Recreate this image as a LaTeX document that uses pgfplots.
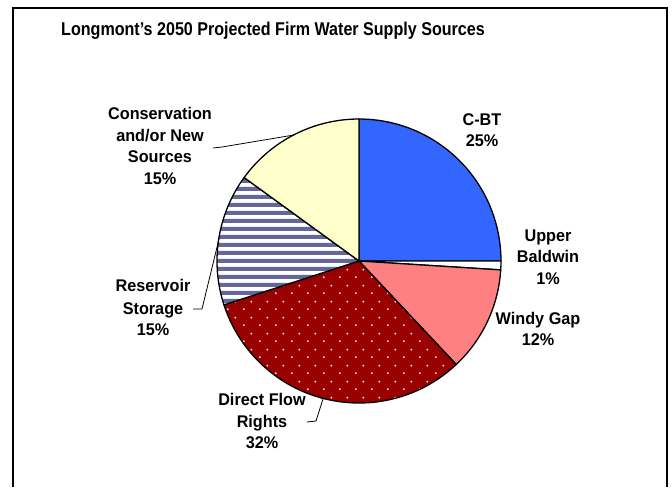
\documentclass[border=0pt]{standalone}
\usepackage{pgfplots}
\pgfplotsset{compat=1.18}
\usepackage{pgfplotstable}
\usepackage{fontspec}
\setmainfont{Liberation Sans}
\newfontfamily\ttlfamily[FakeStretch=0.87]{Liberation Sans}
\newfontfamily\labfamily[FakeStretch=0.96]{Liberation Sans}
\usetikzlibrary{patterns}

\definecolor{cbt}{HTML}{3366FF}
\definecolor{windy}{HTML}{FF8080}
\definecolor{direct}{HTML}{990000}
\definecolor{stripe}{HTML}{666699}
\definecolor{cons}{HTML}{FFFFCC}
\definecolor{dotc}{HTML}{F4D8D8}

\pgfdeclarepatternformonly{hstripes}{\pgfpoint{0pt}{0pt}}{\pgfpoint{10pt}{7.7pt}}{\pgfpoint{10pt}{7.7pt}}{%
  \pgfpathrectangle{\pgfpoint{-1pt}{0pt}}{\pgfpoint{12pt}{4.2pt}}\pgfusepath{fill}}
\pgfdeclarepatternformonly{sdots}{\pgfpoint{0pt}{0pt}}{\pgfpoint{16pt}{16pt}}{\pgfpoint{16pt}{16pt}}{%
  \pgfpathcircle{\pgfpoint{4pt}{4pt}}{1.1pt}%
  \pgfpathcircle{\pgfpoint{12pt}{12pt}}{1.1pt}\pgfusepath{fill}}

\newcommand\lab{\labfamily\fontsize{16.9}{18}\selectfont\bfseries}
\newcommand\ttl{\ttlfamily\fontsize{18.5}{20}\selectfont\bfseries}

\begin{document}
\begin{tikzpicture}
\pgfplotstableread{
label pct
C-BT 25
UpperBaldwin 1
WindyGap 12
DirectFlowRights 32
ReservoirStorage 15
Conservation 15
}\piedata
\pgfplotstablegetelem{0}{pct}\of\piedata\pgfmathsetmacro\pA{\pgfplotsretval}
\pgfplotstablegetelem{1}{pct}\of\piedata\pgfmathsetmacro\pB{\pgfplotsretval}
\pgfplotstablegetelem{2}{pct}\of\piedata\pgfmathsetmacro\pC{\pgfplotsretval}
\pgfplotstablegetelem{3}{pct}\of\piedata\pgfmathsetmacro\pD{\pgfplotsretval}
\pgfplotstablegetelem{4}{pct}\of\piedata\pgfmathsetmacro\pE{\pgfplotsretval}
\pgfplotstablegetelem{5}{pct}\of\piedata\pgfmathsetmacro\pF{\pgfplotsretval}
\pgfmathsetmacro\tA{90}
\pgfmathsetmacro\tB{\tA-3.6*\pA}
\pgfmathsetmacro\tC{\tB-3.6*\pB}
\pgfmathsetmacro\tD{\tC-3.6*\pC}
\pgfmathsetmacro\tE{\tD-3.6*\pD}
\pgfmathsetmacro\tF{\tE-3.6*\pE}
\pgfmathsetmacro\tG{\tF-3.6*\pF}
\def\cx{359}\def\cy{226}\def\R{142}
\newcommand\slice[3]{%
  \path[#3,draw=black,line width=1.3pt,line join=round] (axis cs:\cx,\cy) -- (axis cs:{\cx+\R*cos(#1)},{\cy+\R*sin(#1)}) arc[start angle=#1,end angle=#2,radius=\R pt] -- cycle;}
\begin{axis}[x=1pt,y=1pt,xmin=0,xmax=672,ymin=0,ymax=487,hide axis,clip=false,scale only axis]
\addplot[draw=none,forget plot] coordinates {(0,0) (672,487)};
\slice{\tA}{\tB}{fill=cbt}
\slice{\tB}{\tC}{fill=white}
\slice{\tC}{\tD}{fill=windy}
\slice{\tD}{\tE}{preaction={fill=direct},pattern=sdots,pattern color=dotc}
\slice{\tE}{\tF}{preaction={fill=white},pattern=hstripes,pattern color=stripe}
\slice{\tF}{\tG}{fill=cons}
% leader lines
\draw[line width=0.8pt] (axis cs:213,339) -- (axis cs:222,340) -- (axis cs:294,352);
\draw[line width=0.8pt] (axis cs:193,178) -- (axis cs:202,178) -- (axis cs:219,248);
\draw[line width=0.8pt] (axis cs:307,65) -- (axis cs:316,66) -- (axis cs:323,88);
% frame
\draw[line width=2pt] (axis cs:13,0) -- (axis cs:13,479) -- (axis cs:667,479) -- (axis cs:667,0);
% title
\node[anchor=base,font=\ttl,inner sep=0pt] at (axis cs:273,451) {Longmont’s 2050 Projected Firm Water Supply Sources};
% labels
\node[anchor=base,font=\lab,inner sep=0pt] at (axis cs:160,367) {Conservation};
\node[anchor=base,font=\lab,inner sep=0pt] at (axis cs:160,345) {and/or New};
\node[anchor=base,font=\lab,inner sep=0pt] at (axis cs:160,324) {Sources};
\node[anchor=base,font=\lab,inner sep=0pt] at (axis cs:160,302) {15\%};
\node[anchor=base,font=\lab,inner sep=0pt] at (axis cs:482,361) {C-BT};
\node[anchor=base,font=\lab,inner sep=0pt] at (axis cs:482,340) {25\%};
\node[anchor=base,font=\lab,inner sep=0pt] at (axis cs:548,245) {Upper};
\node[anchor=base,font=\lab,inner sep=0pt] at (axis cs:548,224) {Baldwin};
\node[anchor=base,font=\lab,inner sep=0pt] at (axis cs:548,202) {1\%};
\node[anchor=base,font=\lab,inner sep=0pt] at (axis cs:538,162) {Windy Gap};
\node[anchor=base,font=\lab,inner sep=0pt] at (axis cs:538,142) {12\%};
\node[anchor=base,font=\lab,inner sep=0pt] at (axis cs:153,195) {Reservoir};
\node[anchor=base,font=\lab,inner sep=0pt] at (axis cs:153,172) {Storage};
\node[anchor=base,font=\lab,inner sep=0pt] at (axis cs:153,152) {15\%};
\node[anchor=base,font=\lab,inner sep=0pt] at (axis cs:262,82) {Direct Flow};
\node[anchor=base,font=\lab,inner sep=0pt] at (axis cs:262,60) {Rights};
\node[anchor=base,font=\lab,inner sep=0pt] at (axis cs:262,39) {32\%};
\end{axis}
\end{tikzpicture}
\end{document}
